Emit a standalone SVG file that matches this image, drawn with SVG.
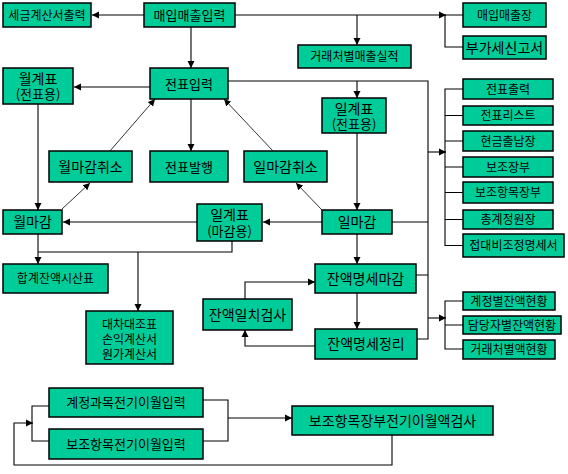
<svg xmlns="http://www.w3.org/2000/svg" width="568" height="474" viewBox="0 0 568 474">
<defs>
<marker id="a" markerUnits="userSpaceOnUse" markerWidth="8" markerHeight="8" refX="7" refY="4" orient="auto">
<path d="M0,0.5 L7,4 L0,7.5 z" fill="#000"/>
</marker>
<style>
.n rect{fill:#00cc99;stroke:#000;stroke-width:1.5}
text{font-family:"Noto Sans CJK KR","Noto Sans",sans-serif;fill:#000;text-anchor:middle}
.s12{font-size:12px}.s13{font-size:13px}.s14{font-size:14px}
#c path{fill:none;stroke:#000;stroke-width:1.1}
#c .ar{marker-end:url(#a)}
#c .th{stroke-width:0.8}
</style>
</defs>
<rect width="568" height="474" fill="#fff"/>
<g id="c">
<path class="ar" d="M144,15 H92"/>
<path class="ar" d="M235,15 H446"/>
<path d="M445,15 H463 M445,15 V47 H463"/>
<path class="ar" d="M357,15 V45"/>
<path class="ar" d="M191,27 V68"/>
<path class="ar" d="M150,87 H74"/>
<path class="ar" d="M38,104 V210"/>
<path class="ar" d="M191,99 V151"/>
<path class="ar th" d="M110,151 L155,99"/>
<path class="ar th" d="M273,151 L224,99"/>
<path class="ar th" d="M62,209 L90,183"/>
<path class="ar th" d="M322,210 L296,183"/>
<path d="M228,81 H428 V339 H417 M392,222 H428 M416,275 H428"/>
<path class="ar" d="M357,81 V98"/>
<path class="ar" d="M428,152 H446"/>
<path class="ar" d="M428,318 H446"/>
<path d="M463,89 H445 V245.5 H463 M445,115.5 H463 M445,141 H463 M445,167 H463 M445,192.5 H463 M445,219.5 H463"/>
<path d="M463,301 H445 V349 H463 M445,325 H463"/>
<path class="ar" d="M357,133 V210"/>
<path class="ar" d="M322,222 H263"/>
<path class="ar" d="M197,222 H63"/>
<path class="ar" d="M38,234 V264"/>
<path d="M38,252 H232 V241"/>
<path class="ar" d="M138,252 V311"/>
<path class="ar" d="M357,234 V264"/>
<path class="ar" d="M357,293 V329"/>
<path class="ar" d="M315,346 H245 V330"/>
<path class="ar" d="M245,299 V282 H315"/>
<path d="M203,400 H228 V441 H203"/>
<path class="ar" d="M228,418 H292"/>
<path d="M49,406 H32 V441 H49"/>
<path class="ar" d="M392,435 V465 H14 V423 H33"/>
</g>
<g id="n1" class="n"><rect x="3" y="3" width="88" height="24"/><text class="s12" x="47" y="19.5">세금계산서출력</text></g>
<g id="n2" class="n"><rect x="144" y="3" width="91" height="24"/><text class="s13" x="189.5" y="20">매입매출입력</text></g>
<g id="n3" class="n"><rect x="463" y="3" width="83" height="24"/><text class="s12" x="504.5" y="19.5">매입매출장</text></g>
<g id="n4" class="n"><rect x="463" y="36" width="83" height="23"/><text class="s14" x="504.5" y="52.5">부가세신고서</text></g>
<g id="n5" class="n"><rect x="298" y="45" width="113" height="23"/><text class="s12" x="354.5" y="61">거래처별매출실적</text></g>
<g id="n6" class="n"><rect x="150" y="68" width="78" height="31"/><text class="s13" x="189" y="88.5">전표입력</text></g>
<g id="n7" class="n"><rect x="3" y="68" width="70" height="36"/><text class="s13" x="38" y="84"><tspan x="38" font-size="14">월계표</tspan><tspan x="38" dy="15">(전표용)</tspan></text></g>
<g id="n8" class="n"><rect x="322" y="98" width="64" height="35"/><text class="s13" x="354" y="114"><tspan x="354" font-size="14">일계표</tspan><tspan x="354" dy="15">(전표용)</tspan></text></g>
<g id="n9" class="n"><rect x="49" y="151" width="83" height="31"/><text class="s14" x="90.5" y="171.5">월마감취소</text></g>
<g id="n10" class="n"><rect x="150" y="151" width="78" height="31"/><text class="s13" x="189" y="171.5">전표발행</text></g>
<g id="n11" class="n"><rect x="244" y="151" width="83" height="31"/><text class="s14" x="285.5" y="171.5">일마감취소</text></g>
<g id="n12" class="n"><rect x="3" y="210" width="59" height="24"/><text class="s14" x="32.5" y="227">월마감</text></g>
<g id="n13" class="n"><rect x="197" y="204" width="65" height="37"/><text class="s13" x="229.5" y="220"><tspan x="229.5" font-size="14">일계표</tspan><tspan x="229.5" dy="16">(마감용)</tspan></text></g>
<g id="n14" class="n"><rect x="322" y="210" width="70" height="24"/><text class="s14" x="357" y="227">일마감</text></g>
<g id="n15" class="n"><rect x="3" y="264" width="105" height="29"/><text class="s12" x="55.5" y="283">합계잔액시산표</text></g>
<g id="n16" class="n"><rect x="315" y="264" width="101" height="29"/><text class="s14" x="365.5" y="283.5">잔액명세마감</text></g>
<g id="n17" class="n"><rect x="203" y="299" width="89" height="31"/><text class="s14" x="247.5" y="319.5">잔액일치검사</text></g>
<g id="n18" class="n"><rect x="315" y="329" width="102" height="30"/><text class="s14" x="366" y="349">잔액명세정리</text></g>
<g id="n19" class="n"><rect x="86" y="311" width="87" height="53"/><text class="s12" x="129.5" y="329"><tspan x="129.5">대차대조표</tspan><tspan x="129.5" dy="15">손익계산서</tspan><tspan x="129.5" dy="15">원가계산서</tspan></text></g>
<g id="n20" class="n"><rect x="463" y="79" width="90" height="20"/><text class="s12" x="508" y="93.5">전표출력</text></g>
<g id="n21" class="n"><rect x="463" y="106" width="90" height="19"/><text class="s12" x="508" y="120">전표리스트</text></g>
<g id="n22" class="n"><rect x="463" y="131" width="90" height="20"/><text class="s12" x="508" y="145.5">현금출납장</text></g>
<g id="n23" class="n"><rect x="463" y="157" width="90" height="20"/><text class="s12" x="508" y="171.5">보조장부</text></g>
<g id="n24" class="n"><rect x="463" y="182" width="90" height="21"/><text class="s12" x="508" y="197">보조항목장부</text></g>
<g id="n25" class="n"><rect x="463" y="210" width="90" height="19"/><text class="s12" x="508" y="224">총계정원장</text></g>
<g id="n26" class="n"><rect x="463" y="234" width="101" height="23"/><text class="s12" x="513.5" y="250">접대비조정명세서</text></g>
<g id="n27" class="n"><rect x="463" y="292" width="92" height="18"/><text class="s12" x="509" y="305.5">계정별잔액현황</text></g>
<g id="n28" class="n"><rect x="463" y="316" width="98" height="18"/><text class="s12" x="512" y="329.5">담당자별잔액현황</text></g>
<g id="n29" class="n"><rect x="463" y="340" width="92" height="19"/><text class="s12" x="509" y="354">거래처별액현황</text></g>
<g id="n30" class="n"><rect x="49" y="388" width="154" height="29"/><text class="s13" x="126" y="407">계정과목전기이월입력</text></g>
<g id="n31" class="n"><rect x="49" y="429" width="154" height="30"/><text class="s13" x="126" y="448.5">보조항목전기이월입력</text></g>
<g id="n32" class="n"><rect x="292" y="406" width="201" height="29"/><text class="s14" x="392.5" y="425.5">보조항목장부전기이월액검사</text></g>
</svg>
